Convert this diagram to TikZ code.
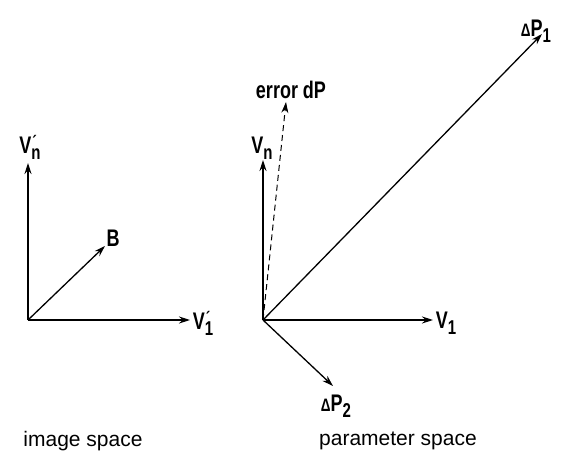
\documentclass[tikz,border=0pt]{standalone}
\usepackage{fontspec}
\setmainfont{Liberation Sans}
\newfontfamily\condfont[FakeStretch=0.75]{Liberation Sans Bold}
\newcommand\lsub[1]{\raisebox{-6pt}{\fontsize{20}{20}\selectfont #1}}
\newcommand\lprime{\rlap{\raisebox{5pt}{\fontsize{18}{18}\selectfont\kern1pt ´}}}
\usetikzlibrary{arrows.meta}
\begin{document}
\begin{tikzpicture}[x=1pt,y=-1pt,
  vec/.style={line width=1.3pt,-{Stealth[length=11pt,width=7pt]}},
  lbl/.style={font=\condfont\fontsize{24}{26}\selectfont,inner sep=0pt},
  captiontext/.style={font=\fontsize{21}{24}\selectfont,inner sep=0pt}]
\useasboundingbox (0,0) rectangle (563,468);
% left: image space
\coordinate (O1) at (28,320);
\coordinate (vn1) at (28,163);
\coordinate (v11) at (190,320);
\coordinate (b) at (105,246);
\draw[vec] (O1) -- (vn1);
\draw[vec] (O1) -- (v11);
\draw[vec] (O1) -- (b);
\node[lbl] (lvn1) at (30,147) {V\lprime\lsub{n}};
\node[lbl] (lv11) at (203,323) {V\lprime\lsub{1}};
\node[lbl] (lb) at (113,238) {B};
% right: parameter space
\coordinate (O2) at (263,320);
\coordinate (vn2) at (263,160);
\coordinate (v12) at (433,320);
\coordinate (dp1) at (542,34);
\coordinate (dp2) at (333,386);
\coordinate (err) at (286,102);
\draw[vec] (O2) -- (vn2);
\draw[vec] (O2) -- (v12);
\draw[vec] (O2) -- (dp1);
\draw[vec] (O2) -- (dp2);
\draw[vec,line width=1pt,dash pattern=on 6pt off 4pt] (O2) -- (err);
\node[lbl] (lvn2) at (262,148) {V\lsub{n}};
\node[lbl] (lv12) at (446,323) {V\lsub{1}};
\node[lbl] (ldp1) at (536,31) {{\fontsize{18}{18}\selectfont Δ}P\lsub{1}};
\node[lbl] (ldp2) at (336,406) {{\fontsize{18}{18}\selectfont Δ}P\lsub{2}};
\node[lbl] (lerr) at (291,90) {error dP};
\node[captiontext] (c1) at (83,441) {image space};
\node[captiontext] (c2) at (398,441) {parameter space};
\end{tikzpicture}
\end{document}
